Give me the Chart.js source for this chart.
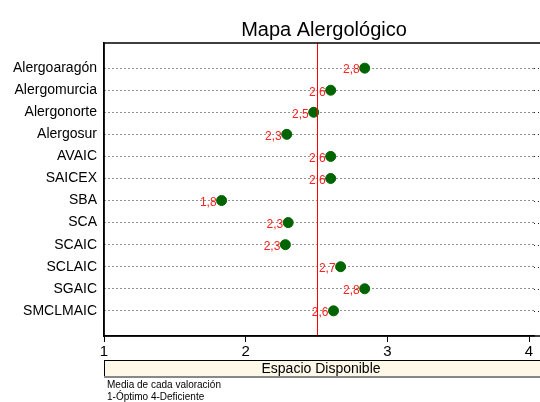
<!DOCTYPE html>
<html>
<head>
<meta charset="utf-8">
<script src="https://cdn.jsdelivr.net/npm/chart.js@4.4.0/dist/chart.umd.min.js"></script>
<style>
  html, body { margin: 0; padding: 0; background: #fff; overflow: hidden; }
  #wrap { width: 540px; height: 402px; }
</style>
</head>
<body>
<div id="wrap"><canvas id="grafico" width="540" height="402"></canvas></div>
<script>
// Datos del mapa
const categorias = ['Alergoaragón', 'Alergomurcia', 'Alergonorte', 'Alergosur', 'AVAIC', 'SAICEX',
  'SBA', 'SCA', 'SCAIC', 'SCLAIC', 'SGAIC', 'SMCLMAIC'];
const medias = [2.84, 2.60, 2.48, 2.29, 2.60, 2.60, 1.83, 2.30, 2.28, 2.67, 2.84, 2.62];
const etiquetas = ['2,8', '2,6', '2,5', '2,3', '2,6', '2,6', '1,8', '2,3', '2,3', '2,7', '2,8', '2,6'];
const ticksX = [1, 2, 3, 4];
const lineaRef = 2.5;
const titulo = 'Mapa Alergológico';

const fuente = '"Liberation Sans", Arial, sans-serif';

// Título, caja del gráfico, línea roja, etiquetas y textos de abajo
const extras = {
  id: 'extras',
  beforeDatasetsDraw(chart) {
    const { ctx, scales: { x, y } } = chart;
    ctx.save();
    // etiquetas rojas
    ctx.fillStyle = '#ff2020';
    ctx.font = '12px ' + fuente;
    ctx.textAlign = 'right';
    ctx.textBaseline = 'middle';
    medias.forEach((v, i) => {
      ctx.fillText(etiquetas[i], x.getPixelForValue(v) - 5, y.getPixelForValue(i) + 2);
    });
    ctx.restore();
  },
  afterDraw(chart) {
    const { ctx, chartArea: a, scales: { x, y } } = chart;
    ctx.save();
    // prolongar las filas punteadas hasta el borde
    ctx.strokeStyle = '#222';
    ctx.lineWidth = 1;
    ctx.setLineDash([1, 3]);
    categorias.forEach((c, i) => {
      const yy = Math.round(y.getPixelForValue(i)) + 0.5;
      ctx.beginPath();
      ctx.moveTo(a.right, yy);
      ctx.lineTo(540, yy);
      ctx.stroke();
    });

    // línea roja de referencia
    const xr = Math.round(x.getPixelForValue(lineaRef)) + 0.5;
    ctx.setLineDash([]);
    ctx.strokeStyle = 'rgb(255,0,0)';
    ctx.lineWidth = 1;
    ctx.beginPath();
    ctx.moveTo(xr, a.top);
    ctx.lineTo(xr, a.bottom);
    ctx.stroke();

    // título
    ctx.fillStyle = '#000';
    ctx.font = '20px ' + fuente;
    ctx.textAlign = 'center';
    ctx.textBaseline = 'middle';
    ctx.fillText(titulo, 324, 30);

    // marco (el lado derecho queda fuera)
    ctx.strokeStyle = '#000';
    ctx.lineWidth = 1.5;
    ctx.strokeRect(a.left, a.top, 600, a.bottom - a.top);

    // caja "Espacio Disponible"
    const top = 360, h = 17;
    ctx.fillStyle = '#fdf8e8';
    ctx.fillRect(a.left, top, 600, h);
    ctx.strokeStyle = '#000';
    ctx.lineWidth = 1;
    ctx.beginPath();
    ctx.moveTo(a.left, top + 0.5); ctx.lineTo(600, top + 0.5);
    ctx.moveTo(a.left + 0.5, top); ctx.lineTo(a.left + 0.5, top + h);
    ctx.stroke();
    ctx.strokeStyle = '#888';
    ctx.lineWidth = 2;
    ctx.beginPath();
    ctx.moveTo(a.left, top + h); ctx.lineTo(600, top + h);
    ctx.stroke();
    ctx.fillStyle = '#000';
    ctx.font = '14px ' + fuente;
    ctx.fillText('Espacio Disponible', 321, top + h / 2 + 1);

    // nota
    ctx.font = '10px ' + fuente;
    ctx.textAlign = 'left';
    ctx.fillText('Media de cada valoración', a.left + 3, 385);
    ctx.fillText('1-Óptimo 4-Deficiente', a.left + 3, 397);
    ctx.restore();
  }
};

new Chart(document.getElementById('grafico'), {
  type: 'scatter',
  data: {
    datasets: [{
      data: medias.map((v, i) => ({ x: v, y: i })),
      backgroundColor: '#006400',
      borderColor: '#006400',
      pointRadius: 5,
      pointHoverRadius: 5
    }]
  },
  options: {
    responsive: false,
    animation: false,
    layout: { padding: { left: 0, right: 0, top: 43, bottom: 40 } },
    plugins: {
      legend: { display: false },
      tooltip: { enabled: false },
      title: { display: false }
    },
    scales: {
      x: {
        type: 'linear',
        min: 1,
        max: 4.035,
        afterBuildTicks(s) { s.ticks = ticksX.map(v => ({ value: v })); },
        grid: { drawOnChartArea: false, drawTicks: true, tickLength: 6, color: '#000' },
        border: { display: true, color: '#000', width: 1.5 },
        ticks: { color: '#000', font: { family: fuente, size: 15 }, padding: 1 }
      },
      y: {
        type: 'linear',
        reverse: true,
        min: -1.14,
        max: 12.14,
        afterBuildTicks(s) { s.ticks = categorias.map((c, i) => ({ value: i })); },
        afterFit(s) { s.width = 104; },
        grid: { drawTicks: false, color: '#222', lineWidth: 1 },
        border: { display: true, color: '#000', width: 1.5, dash: [1, 3] },
        ticks: {
          color: '#000',
          font: { family: fuente, size: 14 },
          padding: 7,
          callback: v => categorias[v]
        }
      }
    }
  },
  plugins: [extras]
});
</script>
</body>
</html>
